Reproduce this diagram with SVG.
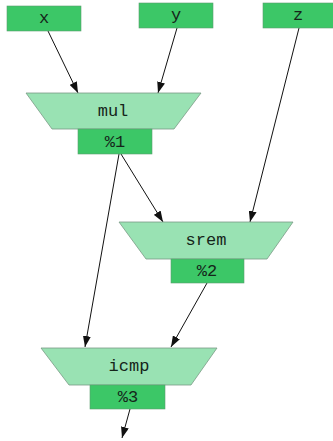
<svg xmlns="http://www.w3.org/2000/svg" width="333" height="441" viewBox="0 0 333 441">
<style>
.box{fill:#3cc767;stroke:#5a9e6e;stroke-width:0.6}
.trap{fill:#99e2b3;stroke:#7a9a85;stroke-width:0.8}
.t{font-family:"Liberation Mono",monospace;font-size:17px;fill:#15251a;text-anchor:middle;dominant-baseline:central}
.e{stroke:#111;stroke-width:1;fill:none;marker-end:url(#ah)}
</style>
<defs>
<marker id="ah" viewBox="0 0 11 8" refX="11" refY="4" markerWidth="11" markerHeight="8" markerUnits="userSpaceOnUse" orient="auto">
<path d="M0,0 L11,4 L0,8 z" fill="#111"/>
</marker>
</defs>
<rect width="333" height="441" fill="#fff"/>
<g id="edges">
<line class="e" x1="48" y1="31" x2="78" y2="93"/>
<line class="e" x1="177" y1="28" x2="158" y2="93"/>
<line class="e" x1="299" y1="28" x2="250" y2="222"/>
<line class="e" x1="121" y1="154" x2="163" y2="222"/>
<line class="e" x1="119" y1="154" x2="85" y2="347"/>
<line class="e" x1="207" y1="283" x2="171" y2="347"/>
<line class="e" x1="130" y1="409" x2="122" y2="438"/>
</g>
<g id="x"><rect class="box" x="7" y="6" width="74" height="25"/><text class="t" x="44" y="18">x</text></g>
<g id="y"><rect class="box" x="139" y="3" width="74" height="25"/><text class="t" x="176" y="15">y</text></g>
<g id="z"><rect class="box" x="263" y="3" width="72" height="25"/><text class="t" x="298" y="15">z</text></g>
<g id="mul"><polygon class="trap" points="26,93 201,93 174,129 52,129"/><text class="t" x="113" y="111">mul</text>
<rect class="box" x="78" y="129" width="74" height="25"/><text class="t" x="115" y="142">%1</text></g>
<g id="srem"><polygon class="trap" points="119,222 293,222 267,259 146,259"/><text class="t" x="206" y="240">srem</text>
<rect class="box" x="171" y="259" width="73" height="24"/><text class="t" x="207" y="271">%2</text></g>
<g id="icmp"><polygon class="trap" points="41,348 217,348 191,385 69,385"/><text class="t" x="129" y="366">icmp</text>
<rect class="box" x="90" y="385" width="75" height="24"/><text class="t" x="128" y="397">%3</text></g>
</svg>
